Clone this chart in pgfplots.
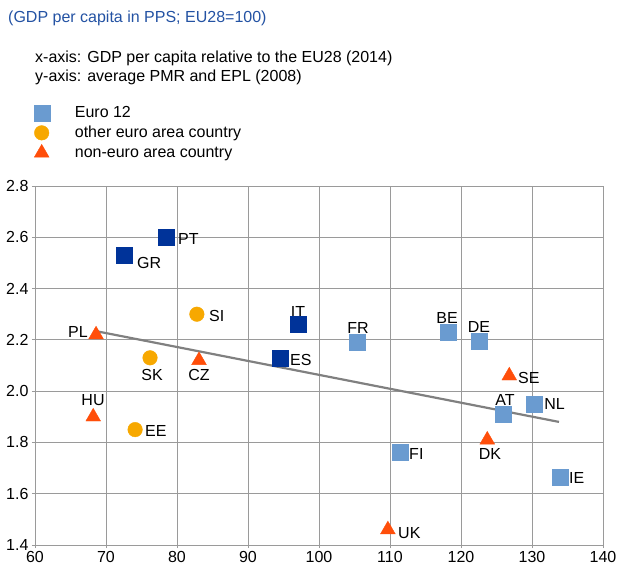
\documentclass[border=0pt]{standalone}
\usepackage{pgfplots}
\pgfplotsset{compat=1.18}
\usepackage{fontspec}
\setmainfont{Liberation Sans}
\definecolor{darkb}{HTML}{003399}
\definecolor{lightb}{HTML}{6A9BD0}
\definecolor{orangec}{HTML}{F7A800}
\definecolor{redt}{HTML}{FF4E0A}
\definecolor{titleb}{HTML}{2352A3}
\definecolor{gridgray}{HTML}{9A9A9A}
\definecolor{trendgray}{HTML}{808080}
\newcommand{\fs}{\fontsize{16bp}{19bp}\selectfont}
\begin{document}
\begin{tikzpicture}
\path[use as bounding box] (-35bp,-32bp) rectangle (592bp,545bp);
\begin{axis}[
  scale only axis, width=568bp, height=359bp,
  xmin=60, xmax=140, ymin=1.4, ymax=2.8,
  xtick={60,70,80,90,100,110,120,130,140},
  ytick={1.4,1.6,1.8,2.0,2.2,2.4,2.6,2.8},
  grid=major, grid style={color=gridgray, line width=0.8pt},
  axis line style={gridgray, line width=0.8pt},
  tick style={gridgray, line width=0.8pt},
  tick align=outside, tick pos=left, major tick length=3bp,
  yticklabel style={/pgf/number format/fixed, /pgf/number format/fixed zerofill, /pgf/number format/precision=1},
  /pgf/number format/assume math mode=true,
  ticklabel style={font=\fs, text=black},
  clip=false,
  legend style={at={(0,1)}, anchor=south west, xshift=-2bp, yshift=25bp, draw=none, fill=none, font=\fs, row sep=3bp, inner sep=0pt},
  legend cell align=left,
  legend image code/.code={\path[draw=none,fill=none] (0cm,0cm) -- (1.4cm,0cm); \draw[mark indices={2}] plot coordinates {(0cm,0cm) (0.3cm,0cm) (1.4cm,0cm)};},
]
\addplot[only marks, mark=square*, mark size=8bp, color=lightb] coordinates {
 (105.4,2.19) (118.2,2.23) (122.5,2.195) (126.0,1.91) (130.3,1.95) (111.4,1.76) (134.0,1.665)};
\addlegendentry{Euro 12}
\addplot[only marks, mark=*, mark size=7.3bp, color=orangec] coordinates {
 (82.8,2.30) (76.2,2.13) (74.1,1.85)};
\addlegendentry{other euro area country}
\addplot[only marks, mark=triangle*, mark size=8.5bp, color=redt] coordinates {
 (68.6,2.22) (68.2,1.90) (83.1,2.12) (126.8,2.06) (123.7,1.81) (109.7,1.46)};
\addlegendentry{non-euro area country}
\addplot[only marks, mark=square*, mark size=8bp, color=darkb, forget plot] coordinates {
 (78.45,2.60) (72.5,2.53) (97.0,2.26) (94.5,2.13)};
\addplot[trendgray, line width=2.2pt, forget plot] coordinates {(68.6,2.234) (133.8,1.88)};
\begin{scope}[every node/.style={font=\fs, inner sep=0pt}]
\node[anchor=west] at (axis cs:80.14,2.593) {PT};
\node[anchor=west] at (axis cs:74.37,2.50) {GR};
\node at (axis cs:97.04,2.309) {IT};
\node[anchor=west] at (axis cs:95.92,2.121) {ES};
\node at (axis cs:105.49,2.246) {FR};
\node at (axis cs:118.03,2.285) {BE};
\node at (axis cs:122.54,2.25) {DE};
\node[anchor=west] at (axis cs:128.03,2.051) {SE};
\node at (axis cs:126.2,1.965) {AT};
\node[anchor=west] at (axis cs:131.7,1.95) {NL};
\node[anchor=west] at (axis cs:112.68,1.755) {FI};
\node at (axis cs:124.08,1.755) {DK};
\node[anchor=west] at (axis cs:135.2,1.661) {IE};
\node[anchor=west] at (axis cs:111.13,1.447) {UK};
\node[anchor=west] at (axis cs:84.5,2.293) {SI};
\node at (axis cs:76.48,2.063) {SK};
\node at (axis cs:83.1,2.063) {CZ};
\node[anchor=east] at (axis cs:67.46,2.231) {PL};
\node at (axis cs:68.17,1.965) {HU};
\node[anchor=west] at (axis cs:75.49,1.844) {EE};
\end{scope}
\end{axis}
\node[anchor=west, inner sep=0pt, font=\fs, text=titleb] at (-27bp,527bp) {(GDP per capita in PPS; EU28=100)};
\node[anchor=west, inner sep=0pt, font=\fs] at (0bp,487bp) {x-axis: GDP per capita relative to the EU28 (2014)};
\node[anchor=west, inner sep=0pt, font=\fs] at (0bp,468bp) {y-axis: average PMR and EPL (2008)};
\end{tikzpicture}
\end{document}
